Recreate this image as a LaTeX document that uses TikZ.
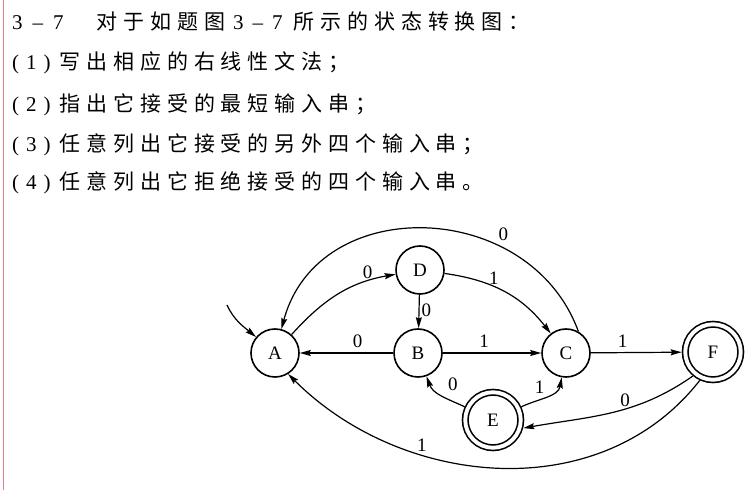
\documentclass[tikz,border=0pt]{standalone}
\usepackage{fontspec}
\setmainfont{Liberation Serif}
\newfontfamily\cjk[LetterSpace=28]{Noto Sans CJK SC}
\usetikzlibrary{arrows.meta}
\definecolor{margin}{RGB}{222,128,140}

\begin{document}
\begin{tikzpicture}[
  x=1pt, y=1pt,
  st/.style={draw, circle, line width=1.6pt, minimum size=48pt, inner sep=0pt,
             font=\fontsize{19}{19}\selectfont},
  finalst/.style={st, minimum size=55.5pt, double, double distance=3.9pt, outer sep=3.6pt},
  arr/.style={-{Stealth[length=11pt, width=6pt, inset=1.5pt]}, line width=1.2pt},
  lbl/.style={font=\fontsize{19}{19}\selectfont, inner sep=2pt},
  qline/.style={anchor=west, inner sep=0pt, font=\fontsize{21}{24}\selectfont},
]
\useasboundingbox (0,0) rectangle (750,490);
\draw[margin, line width=1pt] (3,0) -- (3,490);

% Question text
\node[qline] (q0) at (12,468) {3\hspace{10pt}--\hspace{10pt}7\hspace{33pt}{\cjk 对于如题图}\hspace{8pt}3\hspace{9pt}--\hspace{9pt}7\hspace{11pt}{\cjk 所示的状态转换图：}};
\node[qline] (q1) at (12,427) {(\hspace{7pt}1\hspace{7pt})\hspace{9pt}{\cjk 写出相应的右线性文法；}};
\node[qline] (q2) at (12,385) {(\hspace{7pt}2\hspace{7pt})\hspace{9pt}{\cjk 指出它接受的最短输入串；}};
\node[qline] (q3) at (12,345) {(\hspace{7pt}3\hspace{7pt})\hspace{9pt}{\cjk 任意列出它接受的另外四个输入串；}};
\node[qline] (q4) at (12,307) {(\hspace{7pt}4\hspace{7pt})\hspace{9pt}{\cjk 任意列出它拒绝接受的四个输入串。}};

% States
\node[st] (A) at (275,137) {A};
\node[st] (B) at (418,137) {B};
\node[st] (C) at (566,137) {C};
\node[st] (D) at (420,220) {D};
\node[finalst] (E) at (493,70) {E};
\node[finalst] (F) at (713,138) {F};
\coordinate (init) at (227,185);

% Arrows — upper part
\draw[arr] (init) to[out=-65, in=140] (A);
\draw[arr] (A) to[out=48, in=190] node[lbl, pos=.78, above] {0} (D);
\draw[arr] (C.60) to[out=110, in=75, looseness=1.22] node[lbl, pos=.29, above, yshift=5pt] {0} (A.75);
\draw[arr] (D) to[out=-8, in=128] node[lbl, pos=.4, above] {1} (C);
\draw[arr] (D) -- node[lbl, pos=.45, right] {0} (B);

% Arrows — middle row
\draw[arr] (B) -- node[lbl, pos=.38, above, yshift=3pt] {0} (A);
\draw[arr] (B) -- node[lbl, pos=.42, above, yshift=3pt] {1} (C);
\draw[arr] (C) -- node[lbl, pos=.35, above, yshift=3pt] {1} (F);

% Arrows — lower part
\draw[arr] (E) to[out=155, in=-70] node[lbl, pos=.45, above right, xshift=2pt, yshift=3pt] {0} (B);
\draw[arr] (E) to[out=25, in=-100] node[lbl, pos=.5, above left] {1} (C);
\draw[arr] (F.-130) to[out=-145, in=10] node[lbl, pos=.42, above] {0} (E.-15);
\draw[arr] (F.-115) to[out=-128, in=-45] node[lbl, pos=.67, above] {1} (A.-58);
\end{tikzpicture}
\end{document}
